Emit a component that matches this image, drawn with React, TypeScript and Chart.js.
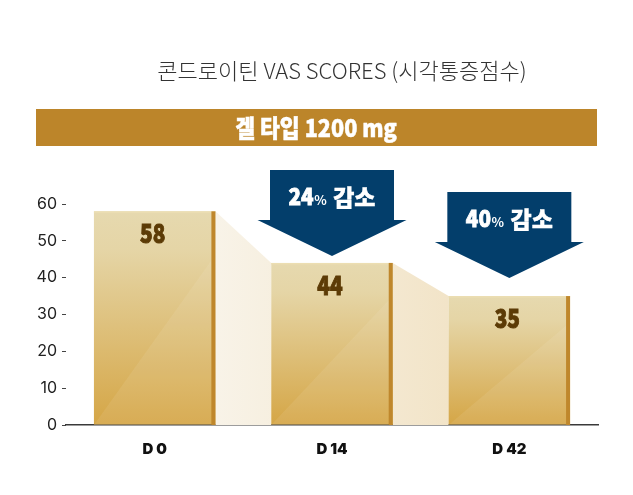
import React, { useEffect, useRef } from 'react';
import { Chart, registerables } from 'chart.js';

Chart.register(...registerables);

const titleText = '콘드로이틴 VAS SCORES (시각통증점수)';
const bannerText = '겔 타입 1200 mg';
const categories = ['D 0', 'D 14', 'D 42'];
const scores = [58, 44, 35];
const yTicks = [0, 10, 20, 30, 40, 50, 60];
const arrowPercents = ['24%', '40%'];
const arrowWord = '감소';
const arrowCategoryIndex = [1, 2];
const arrowTipValues = [45.9, 39.9];

const FONT = '"Noto Sans CJK KR", "Noto Sans", sans-serif';
const LATIN = 'Inter, "Noto Sans", sans-serif';

function heavyText(ctx: any, text: string, x: number, y: number, color: string, stroke: number) {
  ctx.fillStyle = color;
  if (stroke > 0) {
    ctx.strokeStyle = color;
    ctx.lineWidth = stroke;
    ctx.lineJoin = 'miter';
    ctx.strokeText(text, x, y);
  }
  ctx.fillText(text, x, y);
}

const decorPlugin = {
  id: 'decor',
  beforeDraw(chart: any) {
    const ctx = chart.ctx;
    ctx.save();
    ctx.fillStyle = '#ffffff';
    ctx.fillRect(0, 0, chart.width, chart.height);
    // title
    ctx.fillStyle = '#333333';
    ctx.font = `300 22px ${FONT}`;
    ctx.textAlign = 'center';
    ctx.textBaseline = 'middle';
    ctx.fillText(titleText, 342, 71);
    // banner
    ctx.fillStyle = '#BC852A';
    ctx.fillRect(36, 109, 561, 37);
    ctx.font = `900 24px ${FONT}`;
    ctx.translate(316, 128);
    ctx.scale(0.9, 1);
    heavyText(ctx, bannerText, 0, 0, '#ffffff', 0.5);
    ctx.restore();
  },
  beforeDatasetsDraw(chart: any) {
    const ctx = chart.ctx;
    const meta = chart.getDatasetMeta(0);
    const base = chart.scales.y.getPixelForValue(0);
    const first = meta.data[0];
    const last = meta.data[meta.data.length - 1];
    const grad = ctx.createLinearGradient(first.x + first.width / 2, 0, last.x - last.width / 2, 0);
    grad.addColorStop(0, '#F8F3E8');
    grad.addColorStop(1, '#F2E4C8');
    ctx.save();
    for (let i = 0; i < meta.data.length - 1; i++) {
      const a = meta.data[i];
      const b = meta.data[i + 1];
      const ax = a.x + a.width / 2;
      const bx = b.x - b.width / 2;
      ctx.beginPath();
      ctx.moveTo(ax, a.y);
      ctx.lineTo(bx, b.y);
      ctx.lineTo(bx, base);
      ctx.lineTo(ax, base);
      ctx.closePath();
      ctx.fillStyle = grad;
      ctx.fill();
    }
    ctx.restore();
  },
  afterDatasetsDraw(chart: any) {
    const ctx = chart.ctx;
    const meta = chart.getDatasetMeta(0);
    const yScale = chart.scales.y;
    const base = yScale.getPixelForValue(0);
    ctx.save();
    meta.data.forEach((bar: any, i: number) => {
      const left = bar.x - bar.width / 2;
      const right = bar.x + bar.width / 2;
      const top = bar.y;
      const h = base - top;
      // diagonal highlight
      ctx.beginPath();
      ctx.moveTo(left, base);
      ctx.lineTo(right - 4, base);
      ctx.lineTo(right - 4, base - h * 0.77);
      ctx.closePath();
      ctx.fillStyle = 'rgba(255,255,255,0.08)';
      ctx.fill();
      // top edge
      ctx.fillStyle = 'rgba(236,222,178,0.9)';
      ctx.fillRect(left, top, bar.width, 1.5);
      // right stripe
      ctx.fillStyle = '#BF872C';
      ctx.fillRect(right - 4, top, 4, h);
      // value label
      ctx.save();
      ctx.translate((left + right - 4) / 2, top + 21);
      ctx.scale(0.8, 1);
      ctx.font = `900 26px ${FONT}`;
      ctx.textAlign = 'center';
      ctx.textBaseline = 'middle';
      heavyText(ctx, String(scores[i]), 0, 1, '#5C3B06', 1.0);
      ctx.restore();
    });

    // arrows
    arrowCategoryIndex.forEach((ci, k) => {
      const cx = meta.data[ci].x;
      const tip = yScale.getPixelForValue(arrowTipValues[k]);
      const topY = tip - 86;
      const shoulder = tip - 36;
      ctx.beginPath();
      ctx.moveTo(cx - 62, topY);
      ctx.lineTo(cx + 62, topY);
      ctx.lineTo(cx + 62, shoulder);
      ctx.lineTo(cx + 74.5, shoulder);
      ctx.lineTo(cx, tip);
      ctx.lineTo(cx - 74.5, shoulder);
      ctx.lineTo(cx - 62, shoulder);
      ctx.closePath();
      ctx.fillStyle = '#033E6B';
      ctx.fill();

      // text
      const pct = arrowPercents[k];
      const num = pct.replace('%', '');
      const bigFont = `900 23px ${FONT}`;
      const smallFont = `700 13px ${FONT}`;
      ctx.font = bigFont;
      const wNum = ctx.measureText(num).width * 0.9;
      const wWord = ctx.measureText(arrowWord).width;
      ctx.font = smallFont;
      const wPct = ctx.measureText('%').width;
      const gap = 7;
      const total = wNum + wPct + gap + wWord;
      let x = cx - total / 2;
      const ty = topY + 35;
      ctx.textAlign = 'left';
      ctx.textBaseline = 'alphabetic';
      ctx.font = bigFont;
      ctx.save();
      ctx.translate(x, ty);
      ctx.scale(0.9, 1);
      heavyText(ctx, num, 0, 0, '#ffffff', 0.8);
      ctx.restore();
      x += wNum;
      ctx.font = smallFont;
      heavyText(ctx, '%', x + 0.5, ty, '#ffffff', 0);
      x += wPct + gap;
      ctx.font = bigFont;
      heavyText(ctx, arrowWord, x, ty + 1, '#ffffff', 0.4);
    });
    ctx.restore();
  },
};

export default function App() {
  const canvasRef = useRef<HTMLCanvasElement | null>(null);

  useEffect(() => {
    document.body.style.margin = '0';
    const canvas = canvasRef.current;
    if (!canvas) return;
    const chart = new Chart(canvas, {
      type: 'bar',
      data: {
        labels: categories,
        datasets: [
          {
            data: scores,
            borderWidth: 0,
            backgroundColor: (c: any) => {
              const ch = c.chart;
              const ys = ch.scales?.y;
              if (!ys || c.dataIndex === undefined) return '#DDBB70';
              const v = scores[c.dataIndex];
              const top = ys.getPixelForValue(v);
              const base = ys.getPixelForValue(0);
              if (!isFinite(top) || !isFinite(base) || top === base) return '#DDBB70';
              const g = ch.ctx.createLinearGradient(0, top, 0, base);
              g.addColorStop(0, '#E6D9AF');
              g.addColorStop(0.18, '#E5D5A6');
              g.addColorStop(1, '#D5A646');
              return g;
            },
            categoryPercentage: 1,
            barPercentage: 0.685,
          },
        ],
      },
      options: {
        responsive: false,
        animation: false,
        events: [],
        layout: { padding: { top: 204, right: 35, left: 0, bottom: 0 } },
        plugins: {
          legend: { display: false },
          title: { display: false },
          tooltip: { enabled: false },
        },
        scales: {
          x: {
            grid: { display: false, drawTicks: false },
            border: { display: true, color: '#3A3A3A', width: 1.5 },
            ticks: {
              padding: 15,
              color: '#111111',
              font: { family: LATIN, size: 15, weight: '900' },
            },
            afterFit: (s: any) => {
              s.height = 70;
            },
          },
          y: {
            min: 0,
            max: 60,
            afterBuildTicks: (s: any) => {
              s.ticks = yTicks.map((v) => ({ value: v }));
            },
            ticks: {
              padding: 5,
              color: '#222222',
              font: { family: LATIN, size: 16 },
            },
            grid: { drawOnChartArea: false, drawTicks: true, tickLength: 4, color: '#444444' },
            border: { display: false },
            afterFit: (s: any) => {
              s.width = 66;
            },
          },
        },
      },
      plugins: [decorPlugin],
    } as any);
    return () => chart.destroy();
  }, []);

  return (
    <div style={{ width: 633, height: 495 }}>
      <canvas ref={canvasRef} width={633} height={495} style={{ display: 'block' }} />
    </div>
  );
}
